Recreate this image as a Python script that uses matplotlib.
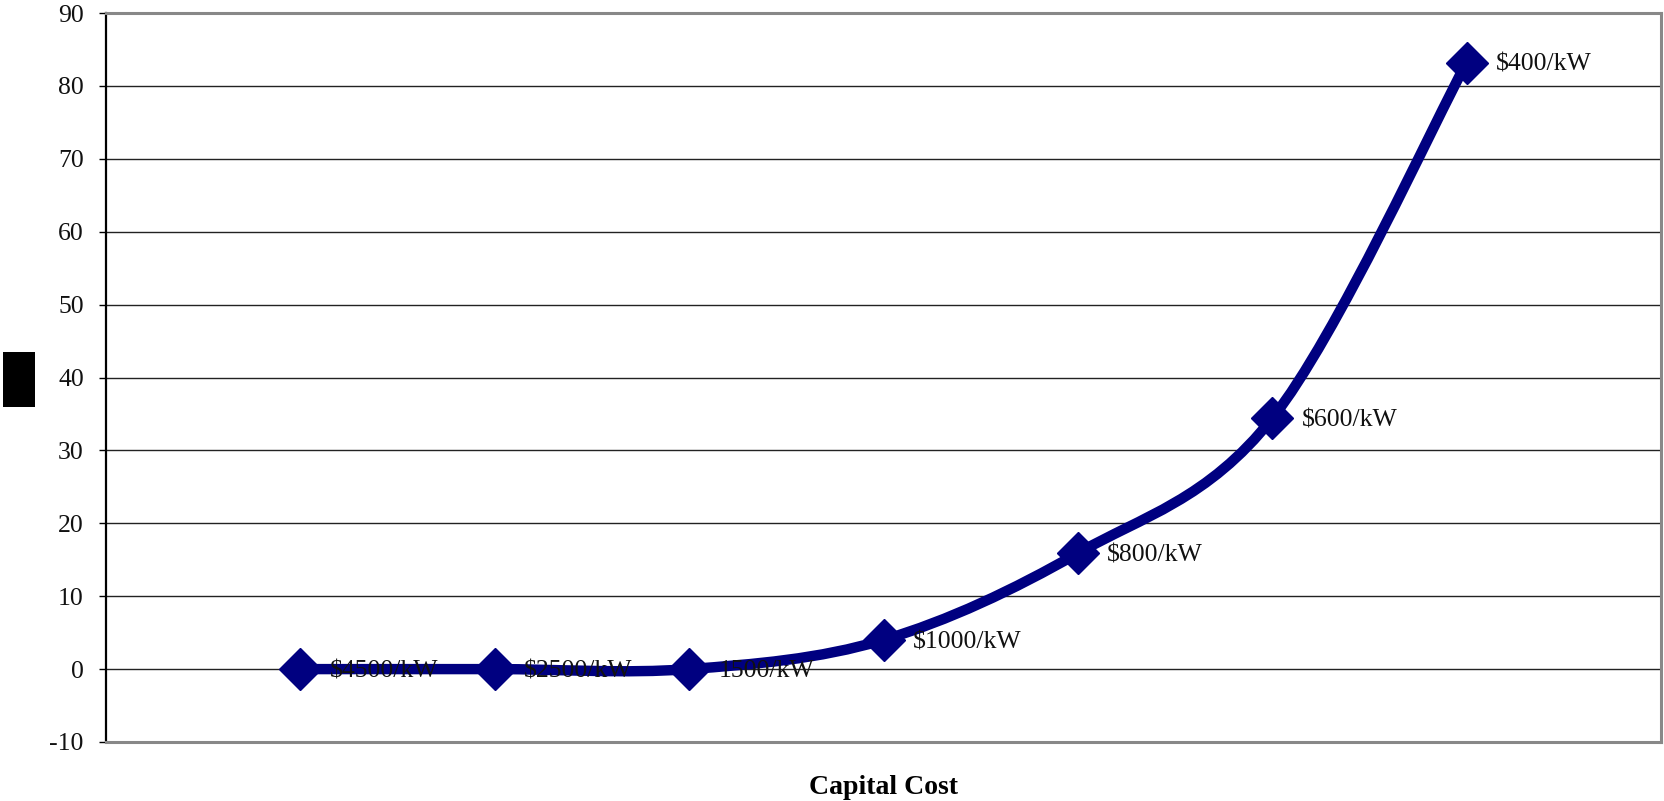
import numpy as np
import matplotlib
matplotlib.use("Agg")
import matplotlib.pyplot as plt
from matplotlib.path import Path
from matplotlib.patches import PathPatch, Rectangle

plt.rcParams['font.family'] = ['Liberation Serif', 'DejaVu Serif']

# data
cost_labels = ['$4500/kW', '$2500/kW', '1500/kW', '$1000/kW', '$800/kW', '$600/kW', '$400/kW']
values = [0.0, 0.0, 0.0, 4.0, 15.9, 34.4, 83.2]
y_ticks = [-10, 0, 10, 20, 30, 40, 50, 60, 70, 80, 90]

fig = plt.figure(figsize=(16.64, 8.01), dpi=100)
ax = fig.add_axes([106 / 1664, 59 / 801, 1555 / 1664, 729 / 801])

x = np.arange(len(values), dtype=float)
y = np.array(values)

# smoothed line like a spreadsheet "smoothed line" (cubic bezier through the points)
verts = [(x[0], y[0])]
codes = [Path.MOVETO]
n = len(x)
for i in range(n - 1):
    p0 = np.array([x[max(i - 1, 0)], y[max(i - 1, 0)]])
    p1 = np.array([x[i], y[i]])
    p2 = np.array([x[i + 1], y[i + 1]])
    p3 = np.array([x[min(i + 2, n - 1)], y[min(i + 2, n - 1)]])
    c1 = p1 + (p2 - p0) / 6
    c2 = p2 - (p3 - p1) / 6
    verts += [tuple(c1), tuple(c2), tuple(p2)]
    codes += [Path.CURVE4, Path.CURVE4, Path.CURVE4]
curve = PathPatch(Path(verts, codes), facecolor='none', edgecolor='#000080',
                  lw=7.5, capstyle='round', joinstyle='round', zorder=3)
ax.add_patch(curve)

ax.plot(x, y, linestyle='none', marker='D', ms=21, color='#000080', zorder=4)

for xi, yi, lab in zip(x, y, cost_labels):
    ax.annotate(lab, (xi, yi), xytext=(21, -1.5), textcoords='offset points',
                ha='left', va='center', fontsize=18.5, color='#111111', zorder=5)

ax.set_xlim(-1, len(values))
ax.set_ylim(-10, 90)
ax.set_yticks(y_ticks)
ax.set_yticklabels([str(t) for t in y_ticks], fontsize=18.5, color='#111111')
ax.set_xticks([])
ax.tick_params(axis='y', length=5, width=1, pad=11, color='black')
ax.yaxis.grid(True, color='#222222', lw=1)
ax.set_axisbelow(True)

ax.spines['left'].set_color('black')
ax.spines['left'].set_linewidth(1.6)
for s in ['top', 'right', 'bottom']:
    ax.spines[s].set_color('#888888')
    ax.spines[s].set_linewidth(2.2)

ax.set_xlabel('Capital Cost', fontsize=20, fontweight='bold', labelpad=24)

# black block where the y-axis title sits
fig.patches.append(Rectangle((3 / 1664, (801 - 407) / 801), 32 / 1664, 55 / 801,
                             transform=fig.transFigure, facecolor='black',
                             edgecolor='none'))

fig.savefig('out.png', dpi=100)
